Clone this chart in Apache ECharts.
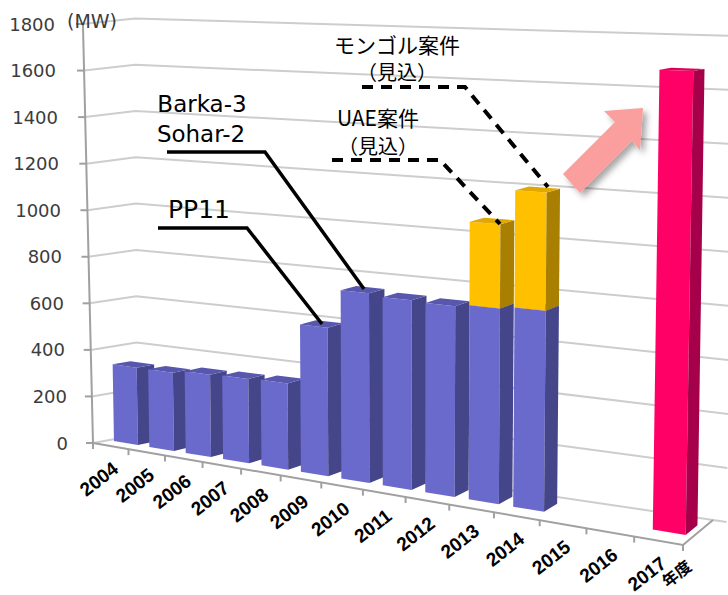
<!DOCTYPE html>
<html>
<head>
<meta charset="utf-8">
<title>発電容量の推移</title>
<script src="https://cdn.jsdelivr.net/npm/echarts@6/dist/echarts.min.js"></script>
<style>
  html, body { margin: 0; padding: 0; background: #fff; }
  #chart { width: 728px; height: 595px; }
</style>
</head>
<body>
<div id="chart"></div>
<script>
// 年度
const years = ['2004', '2005', '2006', '2007', '2008', '2009', '2010',
  '2011', '2012', '2013', '2014', '2015', '2016', '2017'];
// 既設分 (MW)
const existing = [330, 330, 343, 347, 351, 597, 753, 743, 738, 747, 757, 0, 0, 0];
// UAE案件・モンゴル案件（見込）
const planned = [0, 0, 0, 0, 0, 0, 0, 0, 0, 322, 446, 0, 0, 0];
// 2017年度の目標
const target = [0, 0, 0, 0, 0, 0, 0, 0, 0, 0, 0, 0, 0, 1680];
// 目盛
const yTicks = [0, 200, 400, 600, 800, 1000, 1200, 1400, 1600, 1800];

// perspective frame (floor corners relative to the grid's front-left corner)
const DEPTH_L = [44, -8], DEPTH_R = [30, -25];
const DROP = 102;
const SCALE = { fl: 1, fr: 1.207, bl: 0.994, br: 1.156 };
const LEAN = { fl: -0.024, fr: 0.018, bl: -0.005, br: 0.015 };
const BAR_D = [0.35, 0.74];
const BAR_W = 0.68;

const lerp = (a, b, k) => a + (b - a) * k;

function frame(api) {
  const band = api.size([1, 0])[0];
  const o = api.coord([0, 0]);
  return { x0: o[0] - band / 2, y0: o[1], w: band * years.length, band: band };
}

// flat cartesian pixel (x, y) + depth d -> perspective pixel
function warp(f, x, y, d) {
  const q = (x - f.x0) / f.w;
  const t = q * (0.83 + 0.17 * q);
  const dx = lerp(DEPTH_L[0], DEPTH_R[0], t), dy = lerp(DEPTH_L[1], DEPTH_R[1], t);
  const px = f.x0 + f.w * t + d * dx;
  const py = f.y0 + DROP * t + d * dy;
  const s = lerp(lerp(SCALE.fl, SCALE.fr, t), lerp(SCALE.bl, SCALE.br, t), d);
  const lean = lerp(lerp(LEAN.fl, LEAN.fr, t), lerp(LEAN.bl, LEAN.br, t), d);
  const h = (f.y0 - y) * s;
  return [px + h * lean, py - h];
}

function barRenderer(colors, base) {
  return function (params, api) {
    const i = api.value(0), v = api.value(1);
    if (!v) return null;
    const b = base ? base[i] : 0;
    const f = frame(api);
    const cx = api.coord([i, 0])[0];
    const xl = cx - f.band * BAR_W / 2, xr = cx + f.band * BAR_W / 2;
    const y0 = api.coord([i, b])[1], y1 = api.coord([i, b + v])[1];
    const d0 = BAR_D[0], d1 = BAR_D[1];
    const P = (x, y, d) => warp(f, x, y, d);
    return {
      type: 'group',
      children: [
        { type: 'polygon', shape: { points: [P(xl, y0, d0), P(xr, y0, d0), P(xr, y1, d0), P(xl, y1, d0)] },
          style: { fill: colors[0] } },
        { type: 'polygon', shape: { points: [P(xr, y0, d0), P(xr, y0, d1), P(xr, y1, d1), P(xr, y1, d0)] },
          style: { fill: colors[1] } },
        { type: 'polygon', shape: { points: [P(xl, y1, d0), P(xr, y1, d0), P(xr, y1, d1), P(xl, y1, d1)] },
          style: { fill: colors[2] } }
      ]
    };
  };
}

const chart = echarts.init(document.getElementById('chart'), null, { renderer: 'svg' });

const rich = {};
yTicks.forEach(function (v, k) {
  rich['p' + k] = { padding: [0, Math.round(v * 13 / 1800), 0, 0] };
});

const noteFont = { fill: '#000', fontFamily: 'Noto Sans CJK JP', align: 'center', verticalAlign: 'middle' };
const latinFont = { fill: '#000', fontFamily: 'DejaVu Sans', align: 'center', verticalAlign: 'middle' };

chart.setOption({
  backgroundColor: '#ffffff',
  animation: false,
  grid: { left: 93, right: 45, top: 24, bottom: 152, outerBoundsMode: 'none' },
  xAxis: {
    type: 'category',
    data: years,
    show: false
  },
  yAxis: {
    type: 'value',
    min: 0,
    max: 1800,
    interval: 200,
    axisLine: { show: false },
    axisTick: { show: false },
    splitLine: { show: false },
    axisLabel: {
      margin: 25,
      color: '#3c3c3c',
      fontSize: 18,
      fontFamily: 'DejaVu Sans',
      formatter: function (v) { return '{p' + (v / 200) + '|' + v + '}'; },
      rich: rich
    }
  },
  series: [
    {
      // back walls and gridlines
      type: 'custom',
      name: 'grid',
      clip: false,
      silent: true,
      z: 1,
      data: yTicks.map(v => [0, v]),
      renderItem: function (params, api) {
        const f = frame(api);
        const y = api.coord([0, api.value(1)])[1];
        const a = warp(f, f.x0, y, 0), b = warp(f, f.x0, y, 1), c = warp(f, f.x0 + f.w * 1.02, y, 1);
        return {
          type: 'group',
          children: [
            { type: 'polyline', shape: { points: [a, b, c] },
              style: { stroke: '#cdcdcd', lineWidth: 2, fill: null } },
            { type: 'line', shape: { x1: a[0] - 7, y1: a[1], x2: a[0], y2: a[1] },
              style: { stroke: '#a0a0a0', lineWidth: 2 } }
          ]
        };
      }
    },
    {
      // axis lines and floor edges
      type: 'custom',
      name: 'axes',
      clip: false,
      silent: true,
      z: 2,
      data: [[0, 0]],
      renderItem: function (params, api) {
        const f = frame(api);
        const yb = api.coord([0, 0])[1], yt = api.coord([0, 1800])[1];
        const a = warp(f, f.x0, yb, 0), top = warp(f, f.x0, yt, 0);
        const r = warp(f, f.x0 + f.w, yb, 0), rb = warp(f, f.x0 + f.w, yb, 1);
        const st = { stroke: '#a0a0a0', lineWidth: 2, fill: null };
        return {
          type: 'group',
          children: [
            { type: 'polyline', shape: { points: [top, a] }, style: st },
            { type: 'polyline', shape: { points: [a, r, rb] }, style: st }
          ]
        };
      }
    },
    {
      // category ticks and labels
      type: 'custom',
      name: 'labels',
      clip: false,
      silent: true,
      z: 3,
      data: years.map((y, i) => [i, 0]),
      renderItem: function (params, api) {
        const f = frame(api);
        const i = api.value(0);
        const cx = api.coord([i, 0])[0], yb = api.coord([i, 0])[1];
        const children = [];
        const ticks = [cx - f.band / 2];
        if (i === years.length - 1) ticks.push(cx + f.band / 2);
        ticks.forEach(function (x) {
          const p = warp(f, x, yb, 0);
          children.push({ type: 'line', shape: { x1: p[0], y1: p[1], x2: p[0], y2: p[1] + 6 },
            style: { stroke: '#a0a0a0', lineWidth: 2 } });
        });
        const c = warp(f, cx, yb, 0);
        children.push({
          type: 'text',
          x: c[0] + 5,
          y: c[1] + 20,
          rotation: 38 * Math.PI / 180,
          style: {
            text: years[i],
            fill: '#000',
            fontSize: 19,
            fontWeight: 'bold',
            fontFamily: 'Liberation Sans',
            align: 'right',
            verticalAlign: 'middle'
          }
        });
        return { type: 'group', children: children };
      }
    },
    {
      type: 'custom',
      name: '既設',
      clip: false,
      z: 4,
      data: existing.map((v, i) => [i, v]),
      renderItem: barRenderer(['#6a6acc', '#45458a', '#5757ae'], null)
    },
    {
      type: 'custom',
      name: '案件（見込）',
      clip: false,
      z: 5,
      data: planned.map((v, i) => [i, v]),
      renderItem: barRenderer(['#ffc000', '#a87f00', '#e0a800'], existing)
    },
    {
      type: 'custom',
      name: '2017年度',
      clip: false,
      z: 5,
      data: target.map((v, i) => [i, v]),
      renderItem: barRenderer(['#ff0066', '#a6004a', '#e0005c'], null)
    }
  ],
  graphic: [
    { type: 'text', left: 67, top: 11, z: 10,
      style: { text: '(MW)', fill: '#3c3c3c', fontSize: 19, fontFamily: 'DejaVu Sans' } },
    { type: 'text', x: 676, y: 573, rotation: 38 * Math.PI / 180, z: 10,
      style: { text: '年度', fill: '#000', fontSize: 16, fontWeight: 'bold',
        fontFamily: 'Noto Sans CJK JP', align: 'center', verticalAlign: 'middle' } },

    // annotations
    { type: 'text', x: 202, y: 104, z: 10,
      style: Object.assign({ text: 'Barka-3', fontSize: 23 }, latinFont) },
    { type: 'text', x: 201, y: 134, z: 10,
      style: Object.assign({ text: 'Sohar-2', fontSize: 23 }, latinFont) },
    { type: 'polyline', z: 10, shape: { points: [[167, 152], [265, 152], [364, 289]] },
      style: { stroke: '#000', lineWidth: 3.5, fill: null } },
    { type: 'text', x: 199, y: 209, z: 10,
      style: Object.assign({ text: 'PP11', fontSize: 25 }, latinFont) },
    { type: 'polyline', z: 10, shape: { points: [[158, 228], [247, 228], [322, 324]] },
      style: { stroke: '#000', lineWidth: 3.5, fill: null } },

    { type: 'text', x: 397, y: 44, z: 10,
      style: Object.assign({ text: 'モンゴル案件', fontSize: 21 }, noteFont) },
    { type: 'text', x: 397, y: 71, z: 10,
      style: Object.assign({ text: '（見込）', fontSize: 20 }, noteFont) },
    { type: 'polyline', z: 10, shape: { points: [[362, 87], [465, 87], [548, 187]] },
      style: { stroke: '#000', lineWidth: 4, lineDash: [11, 8], fill: null } },

    { type: 'text', x: 378, y: 117, z: 10,
      style: Object.assign({ text: 'UAE案件', fontSize: 21 }, noteFont) },
    { type: 'text', x: 378, y: 145, z: 10,
      style: Object.assign({ text: '（見込）', fontSize: 20 }, noteFont) },
    { type: 'polyline', z: 10, shape: { points: [[332, 160], [440, 160], [500, 224]] },
      style: { stroke: '#000', lineWidth: 4, lineDash: [11, 8], fill: null } },

    // growth arrow
    { type: 'polygon', z: 9,
      shape: { points: [[643, 108], [604, 111], [615, 122], [563, 174], [580, 193], [632, 141], [640, 150]] },
      style: { fill: '#fa9e9e', shadowBlur: 6, shadowOffsetX: 4, shadowOffsetY: 4,
        shadowColor: 'rgba(0,0,0,0.35)' } }
  ]
});
</script>
</body>
</html>
